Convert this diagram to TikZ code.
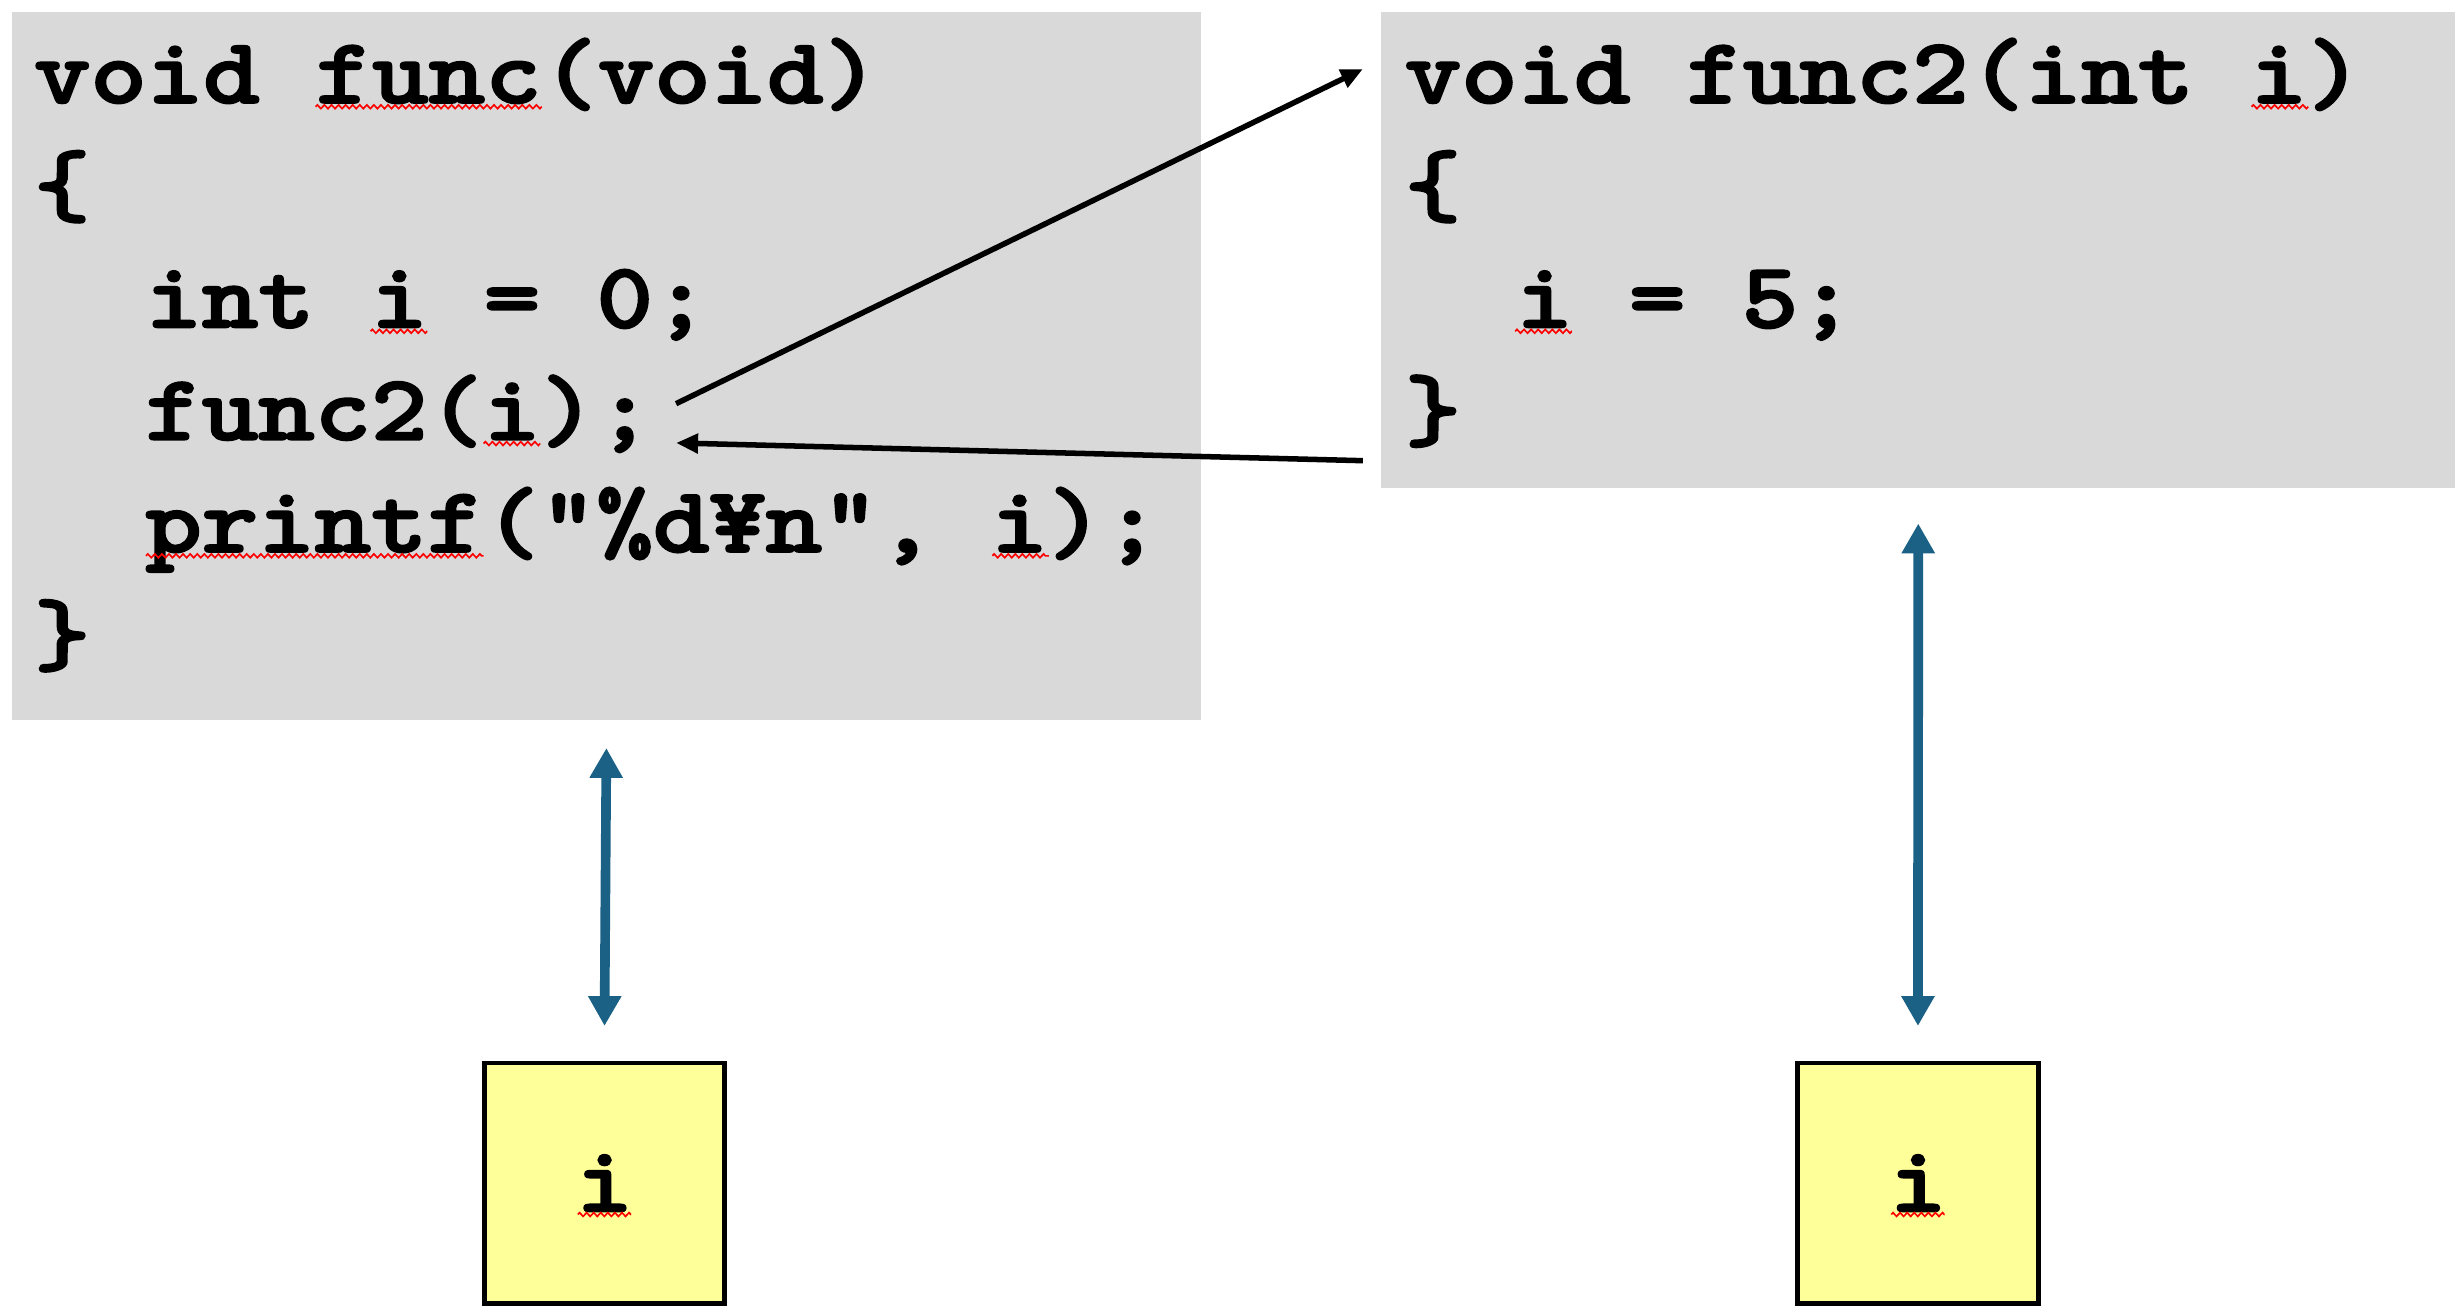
\documentclass[tikz,border=0pt]{standalone}
\usepackage{fontspec}
\usepackage{graphicx}
\newfontfamily\codefont{lmmonolt10-bold.otf}[FakeBold=2]
\newcommand{\codeln}[1]{\scalebox{1}[0.87]{#1}}
\usetikzlibrary{arrows.meta,calc,decorations.pathmorphing}
\definecolor{codegray}{HTML}{D9D9D9}
\definecolor{varyellow}{HTML}{FFFF99}
\definecolor{linkblue}{HTML}{1A6185}
\tikzset{
  codebox/.style={fill=codegray, draw=none, inner sep=0pt, anchor=north west},
  codeline/.style={anchor=base west, inner sep=0pt, font=\codefont\fontsize{19.46}{23}\selectfont},
  varbox/.style={fill=varyellow, draw=black, line width=0.9pt, minimum width=1.53cm, minimum height=1.53cm, inner sep=0pt, font=\codefont\fontsize{19.46}{23}\selectfont},
  callarrow/.style={draw=black, line width=1pt, -{Triangle[length=0.14cm, width=0.12cm]}},
  memarrow/.style={draw=linkblue, line width=1.75pt, {Triangle[length=0.19cm, width=0.2cm]}-{Triangle[length=0.19cm, width=0.2cm]}},
  squig/.style={draw=red, line width=0.3pt, decorate, decoration={zigzag, amplitude=0.12mm, segment length=0.45mm}}
}
\begin{document}
\begin{tikzpicture}
\useasboundingbox (0,0) rectangle (15.68,8.37);
% code boxes
\node[codebox, minimum width=7.57cm, minimum height=4.51cm] (B1) at (0.07,8.30) {};
\node[codebox, minimum width=6.84cm, minimum height=3.03cm] (B2) at (8.79,8.30) {};
% left code
\node[codeline] (L1) at (0.21,7.714) {\codeln{void func(void)}};
\node[codeline] (L2) at (0.21,6.999) {\codeln{\{}};
\node[codeline] (L3) at (0.92,6.284) {\codeln{int i = 0;}};
\node[codeline] (L4) at (0.92,5.569) {\codeln{func2(i);}};
\node[codeline] (L5) at (0.92,4.854) {\codeln{printf("\%d¥n", i);}};
\node[codeline] (L6) at (0.21,4.139) {\codeln{\}}};
% right code
\node[codeline] (R1) at (8.94,7.714) {\codeln{void func2(int i)}};
\node[codeline] (R2) at (8.94,6.999) {\codeln{\{}};
\node[codeline] (R3) at (9.65,6.284) {\codeln{i = 5;}};
\node[codeline] (R4) at (8.94,5.569) {\codeln{\}}};
% variable boxes
\node[varbox] (Y1) at (3.85,0.835) {\codeln{i}};
\node[varbox] (Y2) at (12.215,0.835) {\codeln{i}};
% spell-check squiggles
\draw[squig] (2.01,7.69) -- (3.45,7.69);
\draw[squig] (2.36,6.26) -- (2.72,6.26);
\draw[squig] (3.08,5.545) -- (3.44,5.545);
\draw[squig] (0.93,4.83) -- (3.08,4.83);
\draw[squig] (6.32,4.83) -- (6.68,4.83);
\draw[squig] (14.34,7.69) -- (14.70,7.69);
\draw[squig] (9.65,6.26) -- (10.01,6.26);
\draw[squig] ($(Y1.center)+(-0.17,-0.2)$) -- ++(0.34,0);
\draw[squig] ($(Y2.center)+(-0.17,-0.2)$) -- ++(0.34,0);
% call / return arrows
\coordinate (callfrom) at ($(L4.base east)+(0.14,0.23)$);
\coordinate (callto) at ($(B2.north west)+(-0.11,-0.37)$);
\coordinate (retfrom) at ($(B2.south west)+(-0.11,0.18)$);
\coordinate (retto) at ($(L4.base east)+(0.14,-0.02)$);
\draw[callarrow] (callfrom) -- (callto);
\draw[callarrow] (retfrom) -- (retto);
% memory arrows
\draw[memarrow] ([yshift=-0.17cm]B1.south) -- ([yshift=0.22cm]Y1.north);
\draw[memarrow] ([yshift=-0.22cm]B2.south) -- ([yshift=0.22cm]Y2.north);
\end{tikzpicture}
\end{document}
